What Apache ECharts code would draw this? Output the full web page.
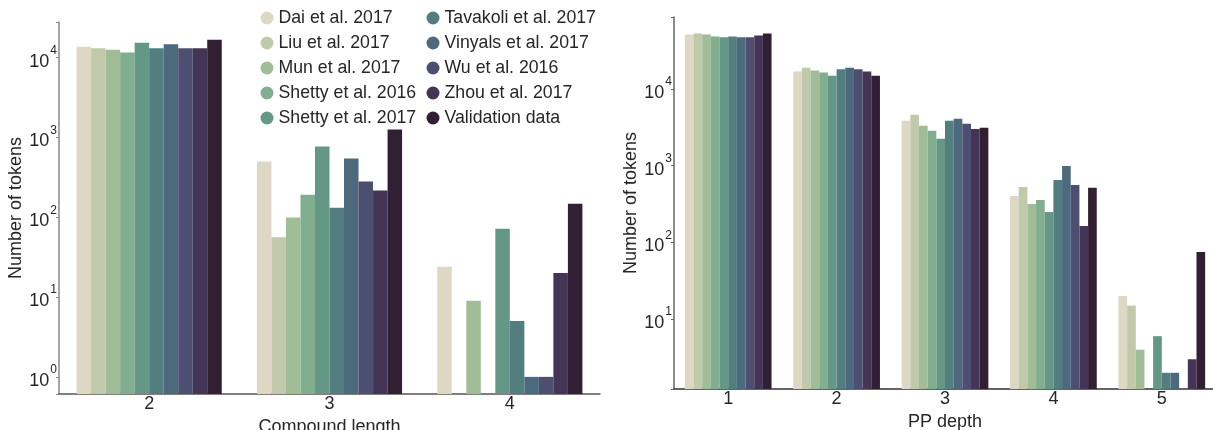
<!DOCTYPE html>
<html>
<head>
<meta charset="utf-8">
<script src="https://cdn.jsdelivr.net/npm/echarts@6/dist/echarts.min.js"></script>
<style>html,body{margin:0;padding:0;background:#fff;}#c{width:1213px;height:430px;}</style>
</head>
<body>
<div id="c"></div>
<script>
var seriesNames = ['Dai et al. 2017','Liu et al. 2017','Mun et al. 2017','Shetty et al. 2016','Shetty et al. 2017','Tavakoli et al. 2017','Vinyals et al. 2017','Wu et al. 2016','Zhou et al. 2017','Validation data'];
var colors = ['#ded7c3','#c0caab','#a0bd98','#80ae8f','#659787','#527e80','#4d697e','#4c4f6f','#443556','#321f33'];

var compoundCategories = ['2','3','4'];
// values per series, per compound length (2,3,4); null = no bar
var compoundDai       = [13700, 500, 24];
var compoundLiu       = [13100, 56, null];
var compoundMun       = [12600, 99, 9];
var compoundShetty16  = [11600, 192, null];
var compoundShetty17  = [15400, 770, 72];
var compoundTavakoli  = [13100, 132, 5];
var compoundVinyals   = [14700, 545, 1];
var compoundWu        = [13100, 280, 1];
var compoundZhou      = [13100, 216, 20];
var compoundValid     = [16800, 1260, 148];

var ppCategories = ['1','2','3','4','5'];
var ppDai       = [51000, 16800, 3820, 402, 20];
var ppLiu       = [52600, 18800, 4580, 527, 15];
var ppMun       = [51000, 17300, 3290, 316, 4];
var ppShetty16  = [48000, 16300, 2830, 357, null];
var ppShetty17  = [46700, 14800, 2230, 249, 6];
var ppTavakoli  = [48000, 17900, 3820, 650, 2];
var ppVinyals   = [46700, 18800, 4060, 990, 2];
var ppWu        = [46700, 17900, 3490, 560, null];
var ppZhou      = [49500, 16800, 3000, 163, 3];
var ppValid     = [52600, 14800, 3100, 512, 75];

var compoundData = [compoundDai, compoundLiu, compoundMun, compoundShetty16, compoundShetty17, compoundTavakoli, compoundVinyals, compoundWu, compoundZhou, compoundValid];
var ppData = [ppDai, ppLiu, ppMun, ppShetty16, ppShetty17, ppTavakoli, ppVinyals, ppWu, ppZhou, ppValid];

var FONT = "'Liberation Sans', Arial, sans-serif";
var TXT = '#262626';

function logLabel(v) {
  var e = Math.log10(v);
  var r = Math.round(e);
  if (Math.abs(e - r) > 1e-6) return '';
  return '{b|10}{s|' + r + '}';
}
var labelRich = {
  b: {fontSize: 18, fontFamily: FONT, color: TXT, verticalAlign: 'bottom'},
  s: {fontSize: 12, fontFamily: FONT, color: TXT, verticalAlign: 'bottom', padding: [0, 0, 14, 1]}
};

function yAxis(gridIndex, min, max, axisColor) {
  return {
    type: 'log', gridIndex: gridIndex, min: min, max: max, startValue: min,
    name: 'Number of tokens', nameLocation: 'middle', nameGap: 33,
    nameTextStyle: {fontSize: 18, fontFamily: FONT, color: TXT},
    axisLine: {show: true, lineStyle: {color: axisColor, width: 1.5}},
    axisTick: {show: true, length: 3, inside: false, lineStyle: {color: axisColor, width: 1}},
    axisLabel: {formatter: logLabel, rich: labelRich, margin: 2},
    splitLine: {show: false},
    minorTick: {show: false}
  };
}
function xAxis(gridIndex, cats, name, axisColor) {
  return {
    type: 'category', gridIndex: gridIndex, data: cats,
    name: name, nameLocation: 'middle', nameGap: 17,
    nameTextStyle: {fontSize: 18, fontFamily: FONT, color: TXT, verticalAlign: 'top'},
    axisLine: {show: true, lineStyle: {color: axisColor, width: 1.5}},
    axisTick: {show: false},
    axisLabel: {fontSize: 18, fontFamily: FONT, color: TXT, margin: 1},
    splitLine: {show: false}
  };
}

var series = [];
seriesNames.forEach(function (n, i) {
  series.push({name: n, type: 'bar', xAxisIndex: 0, yAxisIndex: 0, data: compoundData[i],
    barGap: '0%', barCategoryGap: '19.5%', itemStyle: {color: colors[i]}, silent: true, animation: false});
});
seriesNames.forEach(function (n, i) {
  series.push({name: n, type: 'bar', xAxisIndex: 1, yAxisIndex: 1, data: ppData[i],
    barGap: '0%', barCategoryGap: '20%', itemStyle: {color: colors[i]}, silent: true, animation: false});
});

function legend(names, left) {
  return {
    data: names.map(function (n) { return {name: n, icon: 'circle'}; }),
    orient: 'vertical', left: left, top: 9, itemWidth: 13, itemHeight: 13, itemGap: 7,
    textStyle: {fontSize: 17.7, fontFamily: FONT, color: TXT, lineHeight: 17},
    itemStyle: {borderWidth: 0},
    selectedMode: false, padding: 0
  };
}

var option = {
  animation: false,
  backgroundColor: '#fff',
  color: colors,
  grid: [
    {left: 59, top: 22, width: 541, height: 372, outerBoundsMode: 'none', containLabel: false},
    {left: 674, top: 17, width: 542, height: 372, outerBoundsMode: 'none', containLabel: false}
  ],
  legend: [
    legend(seriesNames.slice(0, 5), 260.5),
    legend(seriesNames.slice(5), 426.5)
  ],
  xAxis: [
    xAxis(0, compoundCategories, 'Compound length', '#555'),
    xAxis(1, ppCategories, 'PP depth', '#333')
  ],
  yAxis: [
    yAxis(0, 0.61, 28000, '#888'),
    yAxis(1, 1.23, 86000, '#666')
  ],
  series: series
};

var chart = echarts.init(document.getElementById('c'), null, {renderer: 'canvas'});
chart.setOption(option);
</script>
</body>
</html>
